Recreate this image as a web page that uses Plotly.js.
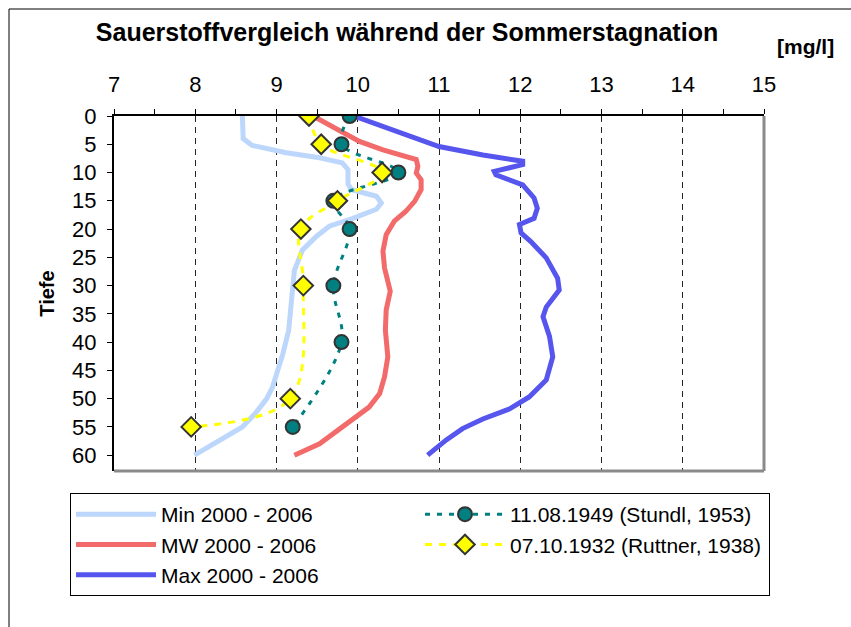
<!DOCTYPE html>
<html>
<head>
<meta charset="utf-8">
<script src="https://cdn.plot.ly/plotly-3.0.1.min.js"></script>
<style>html,body{margin:0;padding:0;background:#fff;}#chart{width:851px;height:627px;}</style>
</head>
<body>
<div id="chart"></div>
<script>
// ---- data ----
const minDepth = [0, 4, 5.2, 6, 6.5, 7.4, 8.3, 9.5, 12, 13, 14.2, 15.4, 16.5, 18.1, 19.5, 21.3, 23.7, 27.3, 32, 37.9, 42, 45, 48, 50, 52.6, 55, 57.3, 60];
const minO2 = [8.58, 8.59, 8.70, 8.99, 9.12, 9.53, 9.81, 9.88, 9.88, 9.92, 10.23, 10.29, 10.23, 9.94, 9.65, 9.49, 9.32, 9.22, 9.19, 9.15, 9.08, 9.02, 8.95, 8.88, 8.74, 8.58, 8.30, 7.99];

const mwDepth = [0, 3, 4.5, 6, 7.7, 8.9, 10.1, 11.3, 13, 15.1, 16.9, 18.6, 21, 23.9, 26.9, 31, 34.3, 37.9, 42.6, 46.1, 49.1, 51.5, 53.2, 55, 58, 60];
const mwO2 = [9.45, 9.81, 10.02, 10.31, 10.72, 10.74, 10.72, 10.78, 10.78, 10.70, 10.59, 10.45, 10.35, 10.31, 10.33, 10.40, 10.35, 10.34, 10.37, 10.33, 10.27, 10.14, 9.98, 9.81, 9.53, 9.22];

const maxDepth = [0, 3, 5.4, 6.9, 8.0, 8.6, 9.8, 10.4, 12.2, 14.5, 16.3, 18.1, 19.2, 20.7, 22.2, 25.1, 28.7, 30.8, 33.8, 35.5, 39, 42.6, 46.7, 49.7, 51.8, 53.6, 55.3, 57.3, 60];
const maxO2 = [9.95, 10.51, 11.0, 11.54, 12.03, 12.03, 11.68, 11.70, 12.03, 12.17, 12.21, 12.17, 11.99, 12.01, 12.13, 12.32, 12.46, 12.48, 12.32, 12.28, 12.36, 12.40, 12.32, 12.11, 11.87, 11.54, 11.29, 11.09, 10.86];

const stundlDepth = [0, 5, 10, 15, 20, 30, 40, 55];
const stundlO2 = [9.9, 9.8, 10.5, 9.7, 9.9, 9.7, 9.8, 9.2];

const ruttnerDepth = [0, 5, 10, 15, 20, 30, 50, 55];
const ruttnerO2 = [9.4, 9.55, 10.3, 9.75, 9.3, 9.33, 9.17, 7.95];

const seriesNames = ["Min 2000 - 2006", "MW 2000 - 2006", "Max 2000 - 2006",
                     "11.08.1949 (Stundl, 1953)", "07.10.1932 (Ruttner, 1938)"];
const xTicks = [7, 8, 9, 10, 11, 12, 13, 14, 15];
const yTicks = [0, 5, 10, 15, 20, 25, 30, 35, 40, 45, 50, 55, 60];

const FONT = "Liberation Sans, Arial, sans-serif";

const traces = [
  {x: minO2, y: minDepth, name: seriesNames[0], mode: "lines", legendrank: 1,
   line: {color: "#bcd7fb", width: 5}},
  {x: mwO2, y: mwDepth, name: seriesNames[1], mode: "lines", legendrank: 3,
   line: {color: "#f26a6a", width: 5}},
  {x: maxO2, y: maxDepth, name: seriesNames[2], mode: "lines", legendrank: 5,
   line: {color: "#5656ee", width: 5}},
  {x: stundlO2, y: stundlDepth, name: seriesNames[3], mode: "lines+markers", legendrank: 2,
   line: {color: "#008080", width: 3, dash: "5px,7px", shape: "spline", smoothing: 1},
   marker: {symbol: "circle", size: 14, color: "#008080", line: {color: "#333333", width: 2}}},
  {x: ruttnerO2, y: ruttnerDepth, name: seriesNames[4], mode: "lines+markers", legendrank: 4,
   line: {color: "#ffff00", width: 3, dash: "7px,7px", shape: "spline", smoothing: 1},
   marker: {symbol: "diamond", size: 15, color: "#ffff00", line: {color: "#333333", width: 2}}}
];

const layout = {
  width: 851, height: 627,
  margin: {l: 114, r: 87, t: 116, b: 156, pad: 0},
  paper_bgcolor: "#ffffff", plot_bgcolor: "#ffffff",
  font: {family: FONT, color: "#000000", size: 20},
  showlegend: true,
  title: {text: "<b>Sauerstoffvergleich während der Sommerstagnation</b>",
          font: {family: FONT, size: 25, color: "#000"},
          x: 407/851, xanchor: "center", xref: "container",
          y: 1 - 32/627, yanchor: "middle", yref: "container"},
  xaxis: {range: [7, 15], side: "top", tickvals: xTicks, ticktext: xTicks.map(String),
          showgrid: true, gridcolor: "#222222", griddash: "6px,5px", gridwidth: 1,
          zeroline: false, showline: true, linecolor: "#000", linewidth: 2,
          ticks: "outside", ticklen: 5, tickwidth: 1, tickcolor: "#000",
          minor: {dtick: 0.5, ticks: "outside", ticklen: 5, tickcolor: "#000", showgrid: false},
          tickfont: {size: 22}, ticklabelstandoff: 8, fixedrange: true},
  yaxis: {range: [62.8, 0], tickvals: yTicks, ticktext: yTicks.map(String),
          showgrid: false, zeroline: false, showline: true, linecolor: "#000", linewidth: 2,
          ticks: "outside", ticklen: 5, tickwidth: 1, tickcolor: "#000",
          tickfont: {size: 22}, ticklabelstandoff: 6,
          title: {text: "<b>Tiefe</b>", font: {size: 20}, standoff: 12}, fixedrange: true},
  legend: {orientation: "h", x: (70-114)/650, xanchor: "left", y: (471-493)/355, yanchor: "top",
           bordercolor: "#000", borderwidth: 1, bgcolor: "#fff",
           font: {size: 21, family: FONT}, entrywidth: 254, itemwidth: 80,
           traceorder: "normal"},
  annotations: [
    {text: "<b>[mg/l]</b>", xref: "paper", yref: "paper", x: (806-114)/650, y: (471-46)/355,
     xanchor: "center", yanchor: "middle", showarrow: false, font: {size: 21, family: FONT}}
  ],
  shapes: [
    {type: "line", xref: "paper", yref: "paper", x0: 1, x1: 1, y0: 0, y1: 1,
     line: {color: "#8a8a8a", width: 3}},
    {type: "line", xref: "paper", yref: "paper", x0: 0, x1: 1, y0: 0, y1: 0,
     line: {color: "#8a8a8a", width: 3}},
    {type: "rect", xref: "paper", yref: "paper", x0: (9-114)/650, x1: (870-114)/650,
     y0: (471-650)/355, y1: (471-9)/355, line: {color: "#000", width: 1}, layer: "below"}
  ]
};

Plotly.newPlot("chart", traces, layout, {staticPlot: true, displayModeBar: false});
</script>
</body>
</html>
